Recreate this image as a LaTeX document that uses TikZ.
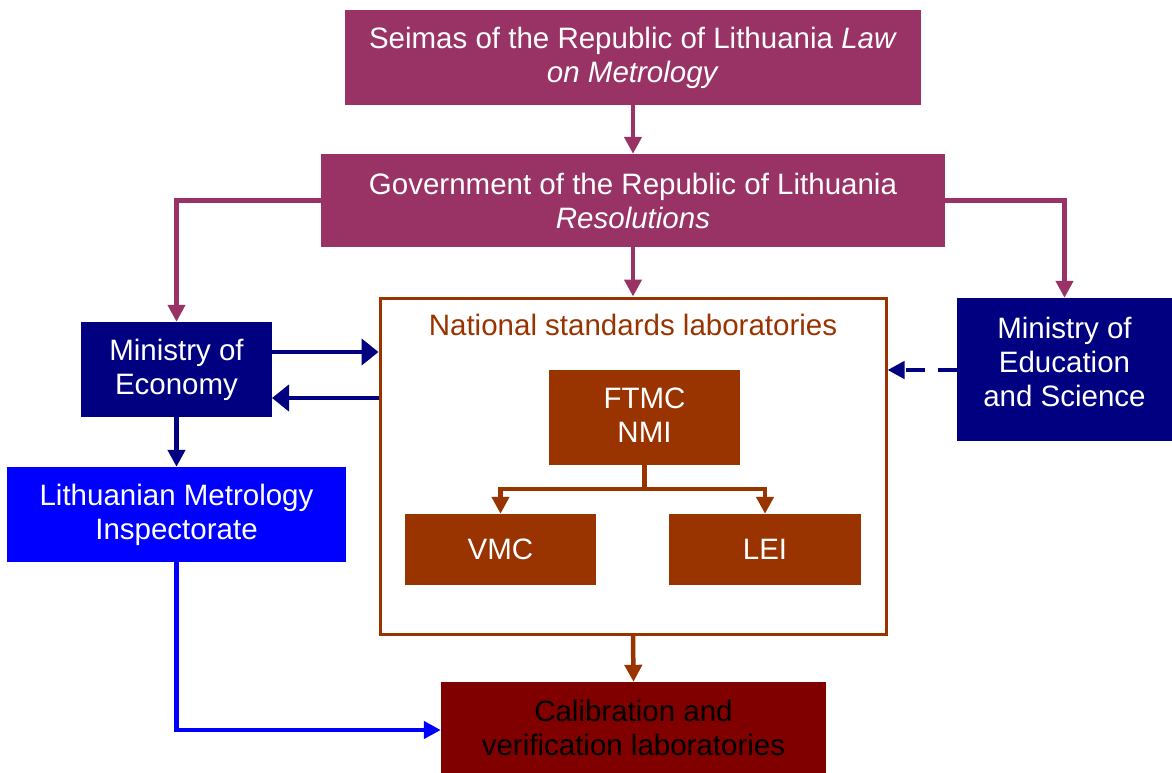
\documentclass[tikz,border=0pt]{standalone}
\usepackage{fontspec}
\setmainfont{Liberation Sans}
\usetikzlibrary{arrows.meta}
\definecolor{plum}{HTML}{993366}
\definecolor{navyc}{HTML}{000080}
\definecolor{bluec}{HTML}{0000FF}
\definecolor{brownc}{HTML}{993300}
\definecolor{maroonc}{HTML}{800000}
\tikzset{
  box/.style={rectangle, inner sep=0pt, align=center, text=white,
    font=\fontsize{29.5}{34}\selectfont},
  conn/.style={line width=4.5pt, -{Triangle[length=17pt,width=17pt]}},
  wideconn/.style={line width=4.5pt, -{Triangle[length=17pt,width=26pt]}},
}
\begin{document}
\begin{tikzpicture}[x=1pt,y=-1pt]
\useasboundingbox (0,0) rectangle (1172,773);
% nodes
\node[box, fill=plum, minimum width=576pt, minimum height=95pt] (seimas) at (633,57.5)
  {Seimas of the Republic of Lithuania \textit{Law}\\\textit{on Metrology}};
\node[box, fill=plum, minimum width=624pt, minimum height=93pt] (gov) at (633,200.5)
  {Government of the Republic of Lithuania\\\textit{Resolutions}};
\node[rectangle, draw=brownc, line width=3pt, minimum width=506pt, minimum height=336pt] (nsl) at (633,466) {};
\node[box, text=brownc, anchor=center] (nsllab) at (633,325) {National standards laboratories};
\node[box, fill=navyc, minimum width=191pt, minimum height=95pt] (econ) at (176.5,369.5)
  {Ministry of\\Economy};
\node[box, fill=navyc, minimum width=215pt, minimum height=143pt] (edu) at (1064.5,369.5) {};
\node[box] (edutxt) at (1064.5,361.5) {Ministry of\\Education\\and Science};
\node[box, fill=bluec, minimum width=339pt, minimum height=95pt] (insp) at (176.5,514.5)
  {Lithuanian Metrology\\Inspectorate};
\node[box, fill=brownc, minimum width=191pt, minimum height=95pt] (ftmc) at (644.5,417.5) {};
\node[box] (ftmctxt) at (644.5,415) {FTMC\\NMI};
\node[box, fill=brownc, minimum width=191pt, minimum height=71pt] (vmc) at (500.5,549.5) {VMC};
\node[box, fill=brownc, minimum width=192pt, minimum height=71pt] (lei) at (765,549.5) {LEI};
\node[box, fill=maroonc, text=black, minimum width=385pt, minimum height=91pt] (cal) at (633.5,727.5)
  {Calibration and\\verification laboratories};
% connectors
\draw[conn, draw=plum] (seimas.south) -- (gov.north);
\draw[conn, draw=plum] (gov.west) -- (gov.west -| econ.north) -- (econ.north);
\draw[conn, draw=plum] (gov.east) -- (gov.east -| edu.north) -- (edu.north);
\draw[conn, draw=plum] (gov.south) -- (nsl.north);
\coordinate (e1) at (272,352);
\coordinate (e2) at (272,398);
\draw[wideconn, draw=navyc] (e1) -- (e1 -| nsl.west);
\draw[wideconn, draw=navyc] (e2 -| nsl.west) -- (e2);
\draw[conn, draw=navyc, dash pattern=on 19pt off 13pt] (edu.west |- 0,370) -- (nsl.east |- 0,370);
\draw[conn, draw=navyc] (econ.south) -- (insp.north);
\draw[conn, draw=bluec] (insp.south) -- (176.5,730) -- (cal.west |- 0,730);
\draw[conn, draw=brownc] (nsl.south) -- (cal.north);
\coordinate (fj) at (644.5,489);
\draw[line width=4.5pt, draw=brownc] (ftmc.south) -- (fj);
\draw[conn, draw=brownc] (fj) -- (fj -| vmc.north) -- (vmc.north);
\draw[conn, draw=brownc] (fj) -- (fj -| lei.north) -- (lei.north);
\end{tikzpicture}
\end{document}
